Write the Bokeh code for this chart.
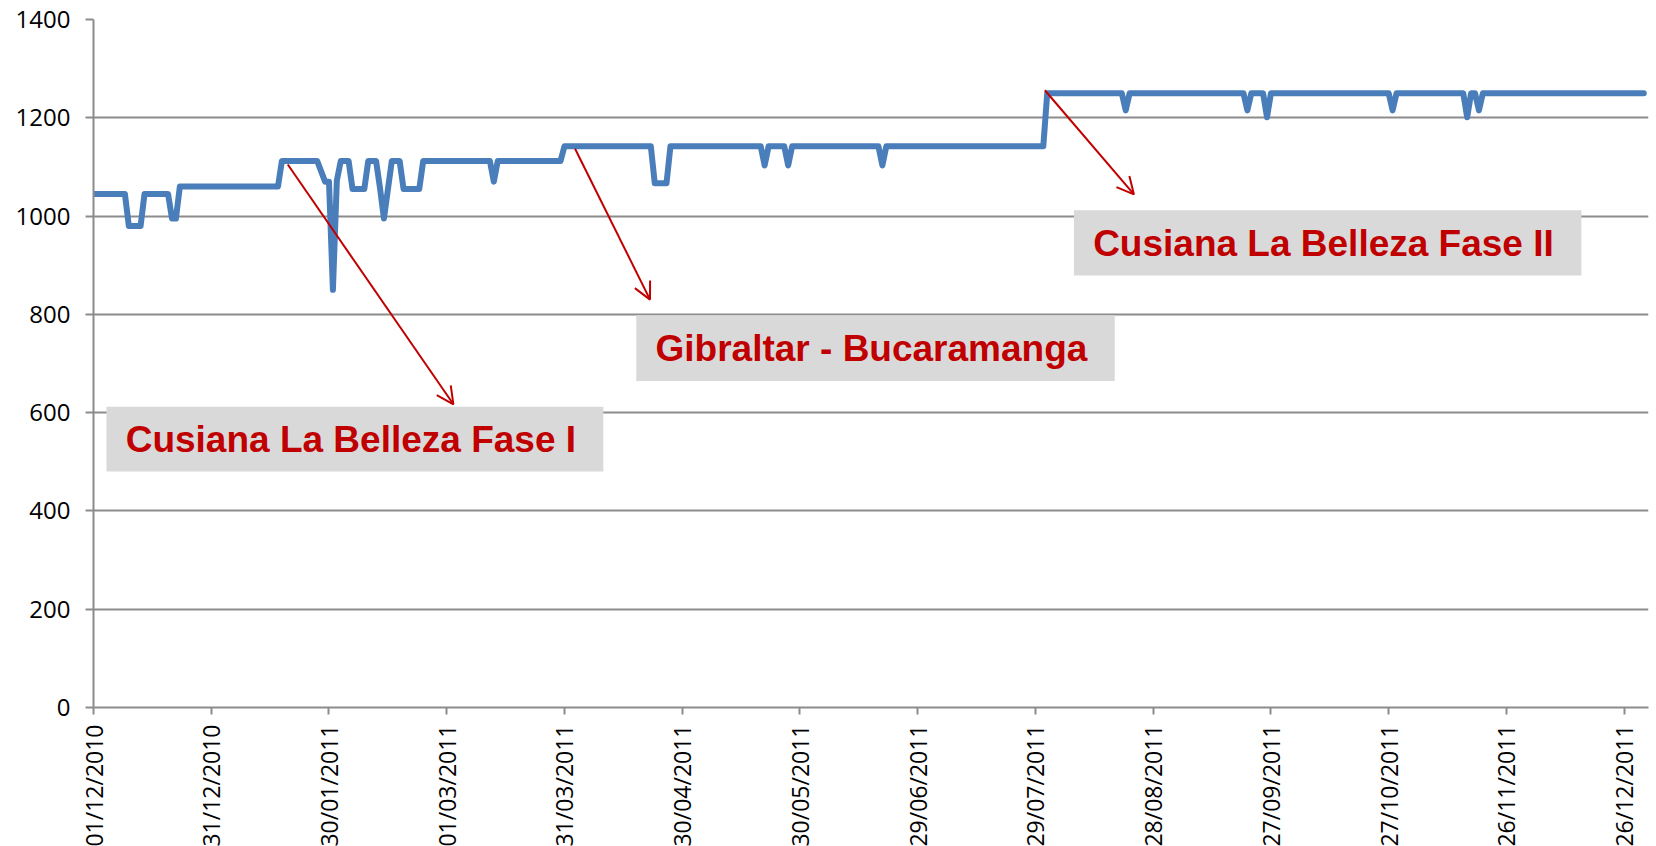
import numpy as np
from bokeh.plotting import figure
from bokeh.models import Range1d, FixedTicker, Arrow, OpenHead, BoxAnnotation, Label
from bokeh.embed import file_html
from bokeh.resources import INLINE

# ---- data: day offset from 01/12/2010 and value at each vertex of the line ----
day = [0, 8, 9, 12, 13, 19, 20, 21, 22, 47, 48, 57, 59, 60, 61, 62, 63, 65, 66, 69,
       70, 72, 73, 74, 76, 78, 79, 83, 84, 101, 102, 103, 119, 120, 142, 143, 146, 147,
       170, 171, 172, 176, 177, 178, 200, 201, 202, 242, 243, 262, 263, 264, 293, 294,
       295, 298, 299, 300, 330, 331, 332, 349, 350, 351, 352, 353, 354, 395]
mw = [1045, 1045, 980, 980, 1045, 1045, 995, 995, 1060, 1060, 1112, 1112, 1070, 1070, 850, 1072, 1112, 1112, 1055, 1055,
      1112, 1112, 1057, 995, 1112, 1112, 1055, 1055, 1112, 1112, 1070, 1112, 1112, 1142, 1142, 1067, 1067, 1142,
      1142, 1103, 1142, 1142, 1103, 1142, 1142, 1103, 1142, 1142, 1250, 1250, 1215, 1250, 1250, 1215,
      1250, 1250, 1201, 1250, 1250, 1215, 1250, 1250, 1201, 1250, 1250, 1215, 1250, 1250]

tick_days = [0, 30, 60, 90, 120, 150, 180, 210, 240, 270, 300, 330, 360, 390]
tick_labels = ["01/12/2010", "31/12/2010", "30/01/2011", "01/03/2011", "31/03/2011",
               "30/04/2011", "30/05/2011", "29/06/2011", "29/07/2011", "28/08/2011",
               "27/09/2011", "27/10/2011", "26/11/2011", "26/12/2011"]
y_ticks = [0, 200, 400, 600, 800, 1000, 1200, 1400]

notes = ["Cusiana La Belleza Fase I", "Gibraltar - Bucaramanga", "Cusiana La Belleza Fase II"]

# ---- figure ----
p = figure(frame_width=1555, frame_height=688,
           x_range=Range1d(0, 396.2), y_range=Range1d(0, 1400),
           output_backend="svg", toolbar_location=None,
           min_border_left=93, min_border_top=19, min_border_right=2, min_border_bottom=10)
p.outline_line_color = None
p.background_fill_color = "white"

grid_col = "#8c8c8c"
p.xgrid.visible = False
p.ygrid.ticker = FixedTicker(ticks=y_ticks)
p.ygrid.grid_line_color = grid_col
p.ygrid.grid_line_width = 2

p.xaxis.ticker = FixedTicker(ticks=tick_days)
p.xaxis.major_label_overrides = {d: s for d, s in zip(tick_days, tick_labels)}
p.xaxis.major_label_orientation = np.pi / 2
p.yaxis.ticker = FixedTicker(ticks=y_ticks)

for ax in (p.xaxis[0], p.yaxis[0]):
    ax.axis_line_color = grid_col
    ax.axis_line_width = 2
    ax.major_tick_line_color = grid_col
    ax.major_tick_line_width = 2
    ax.major_tick_in = 0
    ax.minor_tick_line_color = None
    ax.major_label_text_font = "Open Sans"
    ax.major_label_text_color = "black"

p.xaxis.major_label_text_font_size = "23px"
p.yaxis.major_label_text_font_size = "24px"
p.xaxis.major_tick_out = 7
p.xaxis.major_label_standoff = 10
p.yaxis.major_tick_out = 8
p.yaxis.major_label_standoff = 15

# ---- the line ----
p.line(day, mw, line_color="#4a7ebb", line_width=6, line_join="round", line_cap="round")

# ---- annotations: boxes, texts, arrows ----
boxes = [(3.3, 129.9, 612, 480), (138.3, 260.2, 798, 664.5), (249.8, 379.1, 1012, 879)]
text_pos = [(8.2, 545), (143.2, 731), (254.7, 944)]
arrows = [(49.5, 1105, 91.7, 617), (122.7, 1137, 141.8, 830), (242.4, 1256, 265.1, 1044)]

for (l, r, t, b), (tx, ty), txt in zip(boxes, text_pos, notes):
    p.add_layout(BoxAnnotation(left=l, right=r, top=t, bottom=b,
                               fill_color="#d9d9d9", fill_alpha=1.0, line_color=None))
    p.add_layout(Label(x=tx, y=ty, text=txt, text_font="Liberation Sans",
                       text_font_style="bold", text_font_size="37px",
                       text_color="#c00000", text_baseline="alphabetic", text_align="left"))

for xs, ys, xe, ye in arrows:
    p.add_layout(Arrow(end=OpenHead(size=17, line_color="#c00000", line_width=2),
                       x_start=xs, y_start=ys, x_end=xe, y_end=ye,
                       line_color="#c00000", line_width=2))

open("out.html", "w").write(file_html(p, INLINE))
